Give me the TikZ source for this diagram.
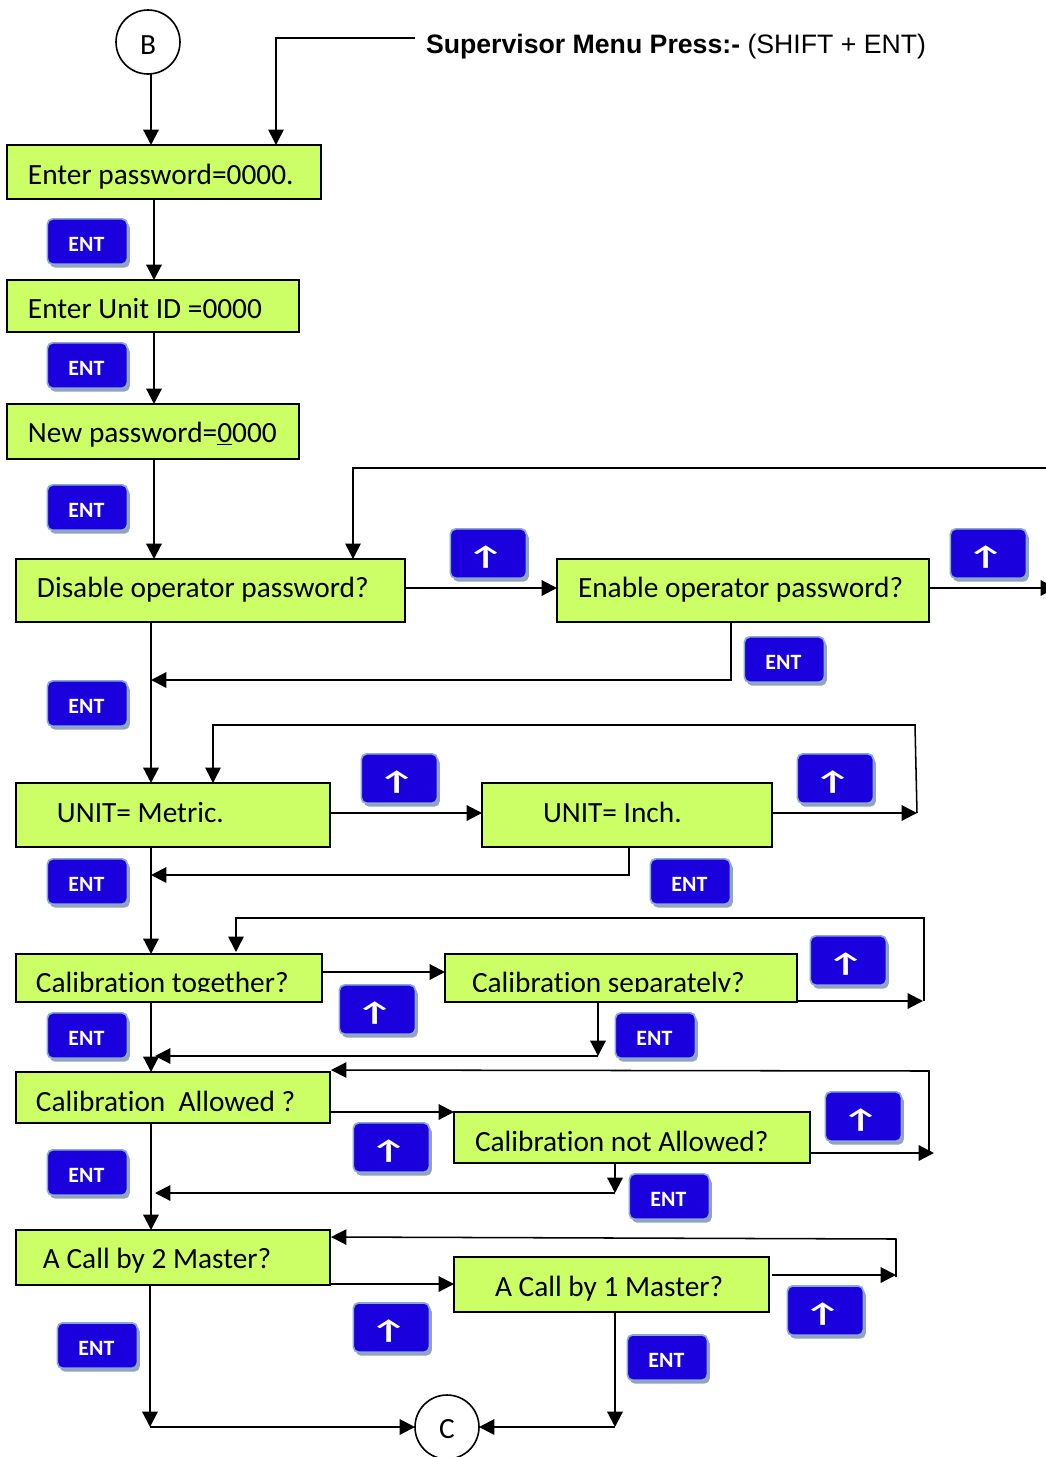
\documentclass[tikz,border=0pt]{standalone}
\usepackage{fontspec}
\setmainfont[Ligatures=NoCommon]{Carlito}
\newfontfamily\arialfont{Liberation Sans}
\usetikzlibrary{arrows.meta,shadows}
\definecolor{boxgreen}{HTML}{CCFF66}
\definecolor{btnblue}{HTML}{1A00DC}
\definecolor{btnedge}{HTML}{8CA8D4}
\definecolor{btnshadow}{HTML}{93A3BA}
\tikzset{
  x=0.75pt,y=-0.75pt,
  flowbox/.style={draw=black,fill=boxgreen,line width=1.5pt,inner sep=0pt,outer sep=0pt,anchor=north west,font=\fontsize{22}{26}\selectfont,align=flush left},
  circ/.style={draw=black,fill=white,circle,line width=1.2pt,minimum size=48pt,inner sep=0pt,outer sep=0pt,font=\fontsize{22}{26}\selectfont},
  btn/.style={rounded corners=4pt,fill=btnblue,draw=btnedge,line width=1.3pt,inner sep=0pt,anchor=north west,text=white,
     drop shadow={shadow xshift=1.8pt,shadow yshift=-2.6pt,fill=btnshadow,opacity=1}},
  entbtn/.style={btn,minimum width=60pt,minimum height=34pt,font=\fontsize{16.4}{18}\selectfont\bfseries},
  upbtn/.style={btn,minimum width=57pt,minimum height=37pt,font=\fontsize{25}{28}\selectfont\bfseries},
  link/.style={draw=black,line width=1.6pt,line join=miter},
  thinlink/.style={draw=black,line width=1.15pt,line join=miter},
  head/.style={-{Triangle[width=11.5pt,length=11.5pt]}},
}
\newcommand{\flownode}[8]{%
  \pgfmathsetmacro{\bw}{(#4-#2)*0.75}\pgfmathsetmacro{\bh}{#7-#3}\pgfmathsetmacro{\bd}{#5-#7}%
  \node[flowbox,text width=\bw pt,text height=\bh*0.75pt,text depth=\bd*0.75pt] (#1) at (#2,#3) {\hspace*{#6\dimexpr0.75pt\relax}#8};}
\newcommand{\entlabel}{\kern-1.5pt\raisebox{-2.2pt}[\height][\depth]{ENT}}
\newcommand{\uplabel}{\kern-3.8pt\raisebox{-2.8pt}[\height][\depth]{\scalebox{1.25}[0.8]{↑}}}
\begin{document}
\begin{tikzpicture}
\useasboundingbox (0,0) rectangle (1046,1457);
% nodes
\node[circ] (B) at (148,42) {\raisebox{-2.2pt}[\height][\depth]{B}};
\node[circ] (C) at (447,1427) {\raisebox{-1.8pt}[\height][\depth]{C}};
\node[anchor=west,inner sep=0pt,outer sep=0pt,font=\arialfont\fontsize{20}{24}\selectfont] (sup) at (426,46.5) {\textbf{Supervisor Menu Press:-} (SHIFT + ENT)};
\flownode{pw}{7}{145}{321}{199}{21}{184}{Enter password=0000.}
\flownode{uid}{7}{280}{299}{332}{21}{318}{Enter Unit ID =0000}
\flownode{npw}{7}{404}{299}{459}{21}{442}{New password=\underline{0}000}
\flownode{dis}{16}{559}{405}{622}{21}{597}{Disable operator password?}
\flownode{ena}{557}{559}{929}{622}{21}{597}{Enable operator password?}
\flownode{met}{16}{783}{330}{847}{41}{822}{UNIT= Metric.}
\flownode{inch}{482}{783}{772}{847}{61}{822}{UNIT= Inch.}
\flownode{tog}{16}{954}{322}{1002}{20}{992}{Calibration together?}
\flownode{sepa}{445}{954}{797}{1002}{27}{992}{Calibration separately?}
\fill[boxgreen] (17.2,991.5) rectangle (320.8,1000.8);
\fill[boxgreen] (446.2,991.5) rectangle (795.8,1000.8);
\flownode{alw}{16}{1072}{330}{1123}{20}{1111}{Calibration\ \ Allowed ?}
\flownode{nalw}{454}{1112}{810}{1163}{21}{1151}{Calibration not Allowed?}
\flownode{mtwo}{16}{1230}{330}{1285}{27}{1268}{A Call by 2 Master?}
\flownode{mone}{454}{1257}{769}{1312}{41}{1296}{A Call by 1 Master?}
% free ends
\coordinate (loopA) at (1050,468);
\coordinate (outA) at (1056,588);
% buttons
\node[entbtn] (e1) at (46.5,218) {\entlabel};
\node[entbtn] (e2) at (46.5,342) {\entlabel};
\node[entbtn] (e3) at (46.5,484) {\entlabel};
\node[entbtn] (e4) at (46.5,680) {\entlabel};
\node[entbtn] (e5) at (46.5,858) {\entlabel};
\node[entbtn] (e6) at (46.5,1012) {\entlabel};
\node[entbtn] (e7) at (46.5,1149) {\entlabel};
\node[entbtn] (e8) at (56.5,1322) {\entlabel};
\node[entbtn] (e9) at (743.5,636) {\entlabel};
\node[entbtn] (e10) at (649.5,858) {\entlabel};
\node[entbtn] (e11) at (614.5,1012) {\entlabel};
\node[entbtn] (e12) at (628.5,1173) {\entlabel};
\node[entbtn] (e13) at (626.5,1334) {\entlabel};
\node[upbtn] (u1) at (449.5,528) {\uplabel};
\node[upbtn] (u2) at (949.5,528) {\uplabel};
\node[upbtn] (u3) at (360.5,753) {\uplabel};
\node[upbtn] (u4) at (796.5,753) {\uplabel};
\node[upbtn] (u5) at (338.5,984) {\uplabel};
\node[upbtn] (u6) at (809.5,935) {\uplabel};
\node[upbtn] (u7) at (352.5,1122) {\uplabel};
\node[upbtn] (u8) at (824.5,1091) {\uplabel};
\node[upbtn] (u9) at (352.5,1302) {\uplabel};
\node[upbtn] (u10) at (786.5,1285) {\uplabel};
% connectors
\draw[link,head] (151,0 |- B.south) -- (151,0 |- pw.north);
\draw[thinlink,head] (sup.west |- 0,38) ++(-11,0) -- (276,38) -- (276,0 |- pw.north);
\draw[link,head] (154,0 |- pw.south) -- (154,0 |- uid.north);
\draw[link,head] (154,0 |- uid.south) -- (154,0 |- npw.north);
\draw[link,head] (154,0 |- npw.south) -- (154,0 |- dis.north);
\draw[link,head] (dis.east |- 0,588) -- (ena.west |- 0,588);
\draw[thinlink,head] (loopA) -- (353,468) -- (353,0 |- dis.north);
\draw[link,head] (ena.east |- 0,588) -- (outA);
\draw[link,head] (731,0 |- ena.south) -- (731,680) -- (151,680);
\draw[link,head] (151,0 |- dis.south) -- (151,0 |- met.north);
\draw[link,head] (met.east |- 0,813) -- (inch.west |- 0,813);
\draw[link,head] (inch.east |- 0,813) -- (917,813);
\draw[thinlink,head] (917,813) -- (915,725) -- (213,725) -- (213,0 |- met.north);
\draw[link,head] (629,0 |- inch.south) -- (629,875) -- (151,875);
\draw[link,head] (151,0 |- met.south) -- (151,0 |- tog.north);
\draw[link,head] (tog.east |- 0,972) -- (sepa.west |- 0,972);
\draw[link,head] (sepa.east |- 0,1001) -- (923,1001);
\draw[thinlink,head] (924,1001) -- (924,918) -- (236,918) -- (236,952);
\draw[link,head] (598,0 |- sepa.south) -- (598,1056);
\draw[link,head] (598,1056) -- (155,1056);
\draw[link,head] (151,0 |- tog.south) -- (151,0 |- alw.north);
\draw[link,head] (alw.east |- 0,1112) -- (nalw.west |- 0,1112);
\draw[link,head] (nalw.east |- 0,1153) -- (934,1153);
\draw[thinlink,head] (929,1153) -- (929,1071) -- (331,1070);
\draw[link,head] (615,0 |- nalw.south) -- (615,1193);
\draw[link,head] (615,1193) -- (155,1193);
\draw[link,head] (151,0 |- alw.south) -- (151,0 |- mtwo.north);
\draw[link,head] (mtwo.east |- 0,1284) -- (mone.west |- 0,1284);
\draw[link,head] (772,1275) -- (896,1275);
\draw[thinlink,head] (896,1277) -- (896,1239) -- (331,1237);
\draw[link,head] (615,0 |- mone.south) -- (615,1427);
\draw[link,head] (615,1427) -- (C.east);
\draw[link,head] (150,0 |- mtwo.south) -- (150,1427);
\draw[link,head] (150,1427) -- (C.west);
\end{tikzpicture}
\end{document}
